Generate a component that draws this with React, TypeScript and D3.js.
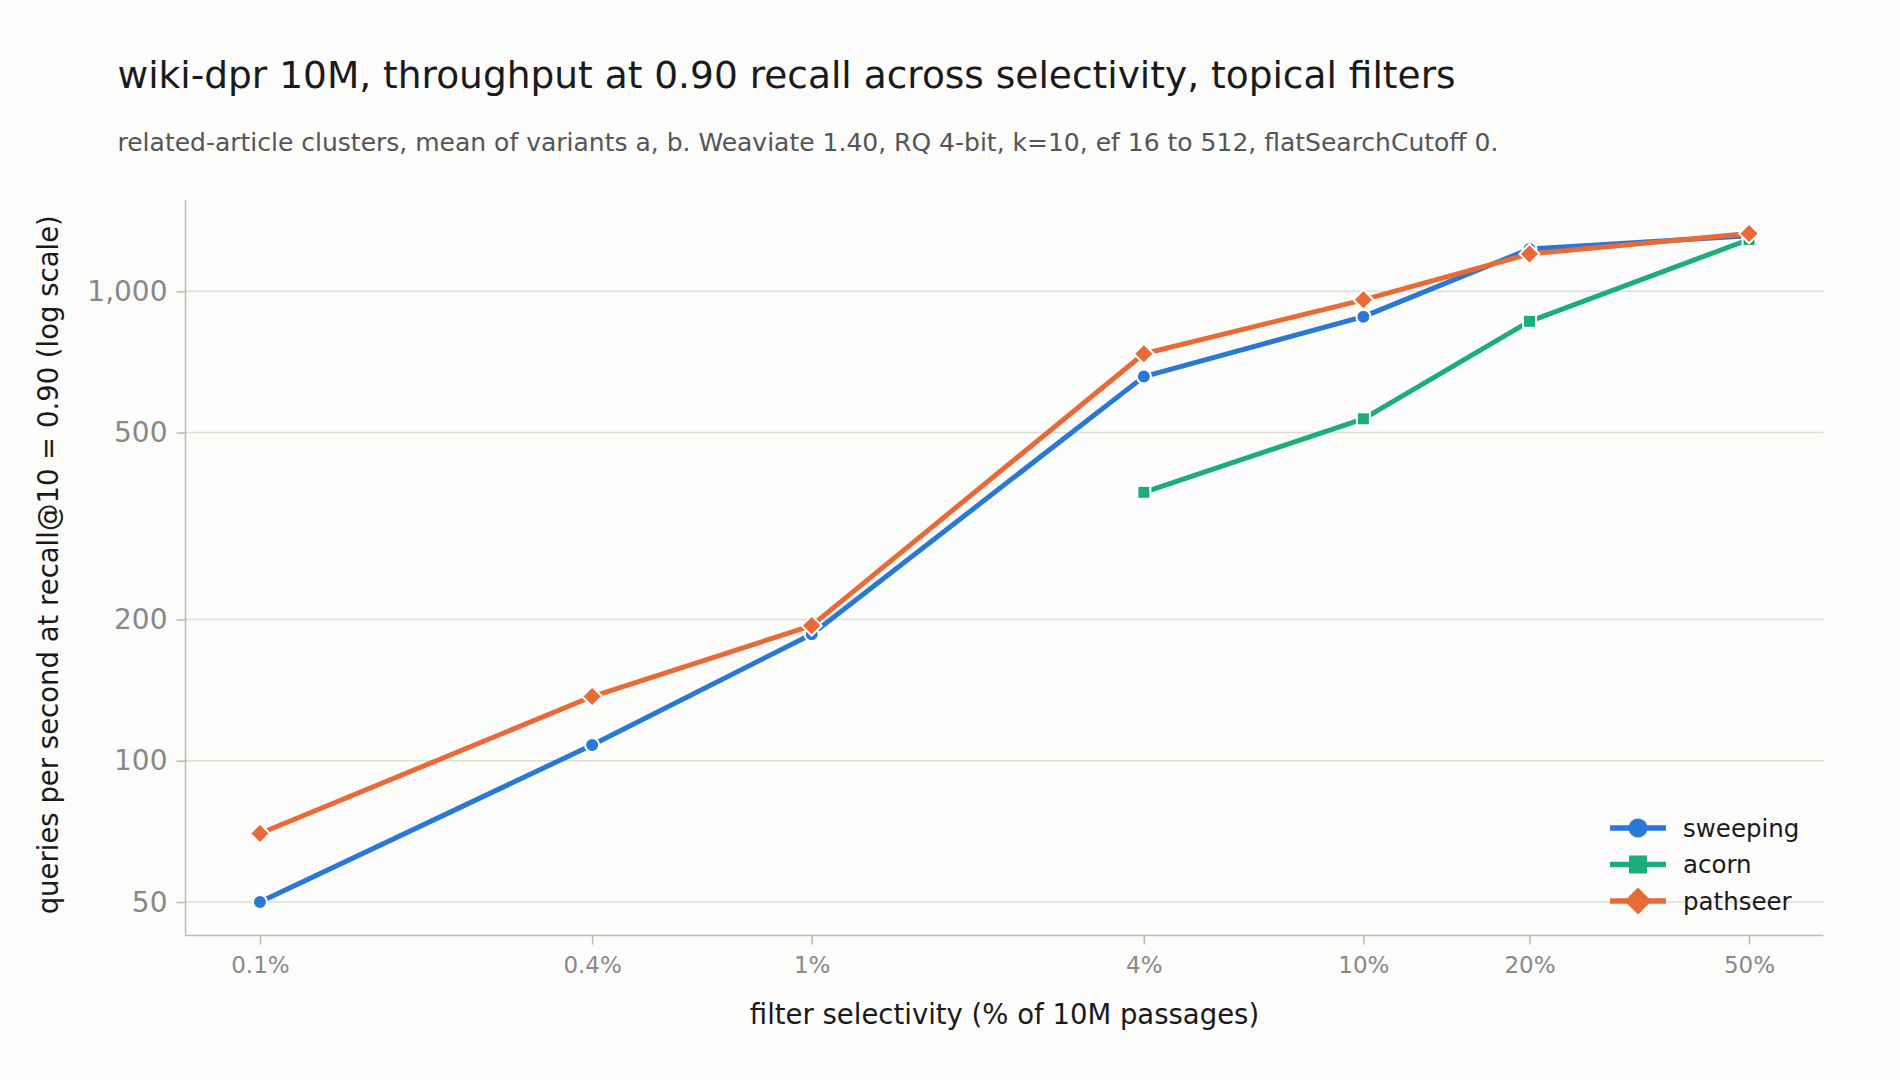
import React, { useEffect, useRef } from "react";
import * as d3 from "d3";

// filter selectivity (% of 10M passages) on the x axis
const selectivity = [0.1, 0.4, 1, 4, 10, 20, 50];
const selectivityLabels = ["0.1%", "0.4%", "1%", "4%", "10%", "20%", "50%"];

// queries per second at recall@10 = 0.90
const sweeping = [50, 108, 186, 658, 883, 1230, 1313];
const acorn = [null, null, null, 373, 535, 863, 1289];
const pathseer = [70, 137, 194, 736, 959, 1201, 1328];

const yTicks = [50, 100, 200, 500, 1000];

const seriesNames = ["sweeping", "acorn", "pathseer"];
const seriesColors = ["#2a78d6", "#1bae7b", "#e96a37"];
const seriesMarkers = ["circle", "square", "diamond"];

const WIDTH = 1900;
const HEIGHT = 1080;
const FONT = "DejaVu Sans, Liberation Sans, sans-serif";

// log extent padded by 5% on each side
function logPad(lo: number, hi: number): [number, number] {
  const a = Math.log10(lo);
  const b = Math.log10(hi);
  const p = (b - a) * 0.05;
  return [Math.pow(10, a - p), Math.pow(10, b + p)];
}

function drawMarker(g: any, kind: string, x: number, y: number, size: number, color: string, edge: number) {
  if (kind === "circle") {
    g.append("circle")
      .attr("cx", x).attr("cy", y).attr("r", size)
      .attr("fill", color).attr("stroke", "#ffffff").attr("stroke-width", edge);
  } else if (kind === "square") {
    g.append("rect")
      .attr("x", x - size).attr("y", y - size)
      .attr("width", size * 2).attr("height", size * 2)
      .attr("fill", color).attr("stroke", "#ffffff").attr("stroke-width", edge);
  } else {
    g.append("path")
      .attr("d", `M${x},${y - size}L${x + size},${y}L${x},${y + size}L${x - size},${y}Z`)
      .attr("fill", color).attr("stroke", "#ffffff").attr("stroke-width", edge);
  }
}

export default function App() {
  const ref = useRef<SVGSVGElement>(null);

  useEffect(() => {
    const svg = d3.select(ref.current);
    svg.selectAll("*").remove();

    const left = 185.5;
    const right = 1823.5;
    const top = 200;
    const bottom = 935.5;

    const allValues = [...sweeping, ...acorn, ...pathseer].filter((v) => v != null) as number[];

    const xScale = d3.scaleLog()
      .domain(logPad(d3.min(selectivity)!, d3.max(selectivity)!))
      .range([left, right]);

    const yScale = d3.scaleLog()
      .domain(logPad(d3.min(allValues)!, d3.max(allValues)!))
      .range([bottom, top]);

    svg.append("rect")
      .attr("width", WIDTH).attr("height", HEIGHT)
      .attr("fill", "#fcfcfb");

    // title and subtitle
    svg.append("text")
      .attr("x", 117.5).attr("y", 88)
      .attr("font-family", FONT).attr("font-size", 37.5)
      .attr("fill", "#1a1a1a")
      .text("wiki-dpr 10M, throughput at 0.90 recall across selectivity, topical filters");

    svg.append("text")
      .attr("x", 117.5).attr("y", 151)
      .attr("font-family", FONT).attr("font-size", 25)
      .attr("fill", "#555555")
      .text("related-article clusters, mean of variants a, b. Weaviate 1.40, RQ 4-bit, k=10, ef 16 to 512, flatSearchCutoff 0.");

    // horizontal grid
    svg.append("g")
      .selectAll("line")
      .data(yTicks)
      .enter()
      .append("line")
      .attr("x1", left).attr("x2", right)
      .attr("y1", (d) => yScale(d)).attr("y2", (d) => yScale(d))
      .attr("stroke", "#deddd6").attr("stroke-width", 1.5);

    // y axis
    const yAxis = d3.axisLeft(yScale)
      .tickValues(yTicks)
      .tickFormat((d) => d3.format(",")(d as number))
      .tickSizeOuter(0)
      .tickSize(9)
      .tickPadding(9);

    const yg = svg.append("g")
      .attr("transform", `translate(${left},0)`)
      .call(yAxis);
    yg.select(".domain").remove();
    yg.selectAll("line").attr("stroke", "#b9b9b1").attr("stroke-width", 1.5);
    yg.selectAll("text")
      .attr("font-family", FONT).attr("font-size", 28)
      .attr("fill", "#888888");

    // x axis
    const xAxis = d3.axisBottom(xScale)
      .tickValues(selectivity)
      .tickFormat((d, i) => selectivityLabels[i])
      .tickSizeOuter(0)
      .tickSize(9)
      .tickPadding(12);

    const xg = svg.append("g")
      .attr("transform", `translate(0,${bottom})`)
      .call(xAxis);
    xg.select(".domain").remove();
    xg.selectAll("line").attr("stroke", "#b9b9b1").attr("stroke-width", 1.5);
    xg.selectAll("text")
      .attr("font-family", FONT).attr("font-size", 23)
      .attr("fill", "#888888");

    // spines
    svg.append("line")
      .attr("x1", left).attr("x2", left)
      .attr("y1", top).attr("y2", bottom)
      .attr("stroke", "#b9b9b1").attr("stroke-width", 1.5);
    svg.append("line")
      .attr("x1", left).attr("x2", right)
      .attr("y1", bottom).attr("y2", bottom)
      .attr("stroke", "#b9b9b1").attr("stroke-width", 1.5);

    // axis labels
    svg.append("text")
      .attr("x", (left + right) / 2).attr("y", 1024)
      .attr("text-anchor", "middle")
      .attr("font-family", FONT).attr("font-size", 27.5)
      .attr("fill", "#1a1a1a")
      .text("filter selectivity (% of 10M passages)");

    svg.append("text")
      .attr("transform", `translate(58,${(top + bottom) / 2 - 3}) rotate(-90)`)
      .attr("text-anchor", "middle")
      .attr("font-family", FONT).attr("font-size", 27.5)
      .attr("fill", "#1a1a1a")
      .text("queries per second at recall@10 = 0.90 (log scale)");

    // series
    const allSeries = [sweeping, acorn, pathseer];
    allSeries.forEach((values, si) => {
      const pts = selectivity
        .map((x, i) => ({ x, y: values[i] }))
        .filter((p) => p.y != null) as { x: number; y: number }[];

      const line = d3.line<{ x: number; y: number }>()
        .x((d) => xScale(d.x))
        .y((d) => yScale(d.y));

      const g = svg.append("g");
      g.append("path")
        .datum(pts)
        .attr("d", line)
        .attr("fill", "none")
        .attr("stroke", seriesColors[si])
        .attr("stroke-width", 5)
        .attr("stroke-linejoin", "round");

      pts.forEach((p) => {
        const size = seriesMarkers[si] === "circle" ? 7 : seriesMarkers[si] === "square" ? 6.5 : 10;
        drawMarker(g, seriesMarkers[si], xScale(p.x), yScale(p.y), size, seriesColors[si], 2);
      });
    });

    // legend
    const legend = svg.append("g").attr("transform", "translate(1610,828)");
    seriesNames.forEach((name, i) => {
      const row = legend.append("g").attr("transform", `translate(0,${i * 36.5})`);
      row.append("line")
        .attr("x1", 0).attr("x2", 56)
        .attr("y1", 0).attr("y2", 0)
        .attr("stroke", seriesColors[i]).attr("stroke-width", 5.5);
      const size = seriesMarkers[i] === "circle" ? 9.5 : seriesMarkers[i] === "square" ? 9 : 13.5;
      drawMarker(row, seriesMarkers[i], 28, 0, size, seriesColors[i], 0);
      row.append("text")
        .attr("x", 73).attr("y", 0)
        .attr("dy", "0.35em")
        .attr("font-family", FONT).attr("font-size", 24.5)
        .attr("fill", "#1a1a1a")
        .text(name);
    });
  }, []);

  return (
    <div>
      <svg
        ref={ref}
        width={WIDTH}
        height={HEIGHT}
        style={{ position: "absolute", left: 0, top: 0, display: "block" }}
      ></svg>
    </div>
  );
}
